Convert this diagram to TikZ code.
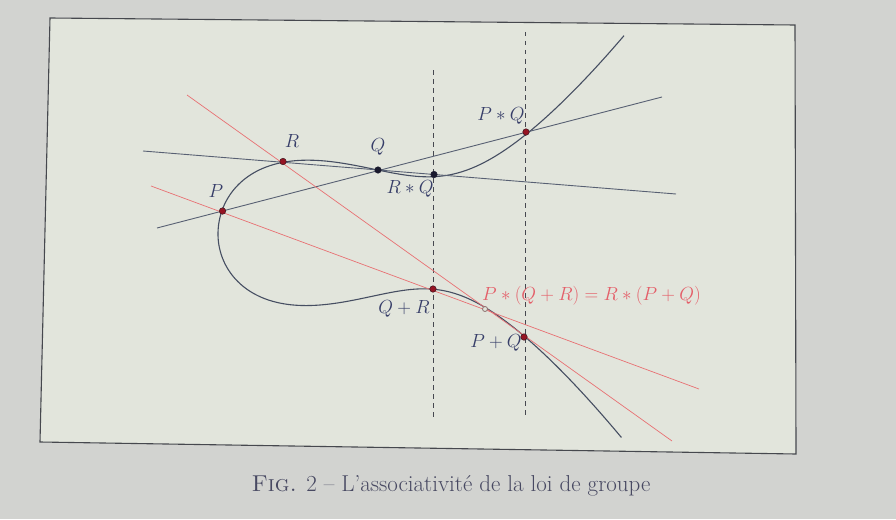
\documentclass[tikz,border=0pt]{standalone}
\usepackage{fix-cm}
\usepackage{fontspec}
\definecolor{bgout}{RGB}{210,211,208}
\definecolor{bgin}{RGB}{226,229,220}
\definecolor{framec}{RGB}{70,72,78}
\definecolor{curvec}{RGB}{70,78,98}
\definecolor{bluec}{RGB}{88,96,115}
\definecolor{redc}{RGB}{232,112,115}
\definecolor{dashc}{RGB}{70,72,80}
\definecolor{dotr}{RGB}{150,20,35}
\definecolor{dotrb}{RGB}{60,20,30}
\definecolor{dotd}{RGB}{25,25,45}
\definecolor{opend}{RGB}{140,110,110}
\definecolor{labc}{RGB}{55,62,105}
\definecolor{redlabc}{RGB}{228,95,105}
\definecolor{capc}{RGB}{72,73,98}
\begin{document}
\begin{tikzpicture}[x=1pt,y=-1pt,
  curvestyle/.style={draw=curvec,line width=1.1pt},
  blueline/.style={draw=bluec,line width=0.9pt},
  redline/.style={draw=redc,line width=0.7pt},
  dashline/.style={draw=dashc,line width=0.9pt,dash pattern=on 4.5pt off 4.5pt},
  dotred/.style={circle,inner sep=0pt,minimum size=6.5pt,fill=dotr,draw=dotrb,line width=0.5pt},
  dotdark/.style={circle,inner sep=0pt,minimum size=6.5pt,fill=dotd,draw=dotd,line width=0.5pt},
  dotopen/.style={circle,inner sep=0pt,minimum size=5pt,fill=bgin,draw=opend,line width=0.8pt},
  lab/.style={text=labc,font=\fontsize{19}{22}\selectfont,inner sep=0pt},
  redlab/.style={text=redlabc,font=\fontsize{19}{22}\selectfont,inner sep=0pt}]
\useasboundingbox (0,0) rectangle (896,519);
\fill[bgout] (0,0) rectangle (896,519);
% frame
\coordinate (c1) at (50,18);
\coordinate (c2) at (795,25);
\coordinate (c3) at (796,454);
\coordinate (c4) at (40,442);
\filldraw[fill=bgin,draw=framec,line width=1.1pt] (c1) -- (c2) -- (c3) -- (c4) -- cycle;
% dashed verticals
\coordinate (d1t) at (433.5,70);
\coordinate (d1b) at (433.5,417);
\coordinate (d2t) at (525.5,32);
\coordinate (d2b) at (525.5,417);
\draw[dashline] (d1t) -- (d1b);
\draw[dashline] (d2t) -- (d2b);
% curve: upper branch and lower branch
\draw[curvestyle] plot[domain=0:2.015,samples=140,variable=\s,smooth]
  ({218+100*\s*\s},{234-100*\s*sqrt(0.25*(\s*\s-2.25)^2+0.15)});
\draw[curvestyle] plot[domain=0:2.01,samples=140,variable=\s,smooth]
  ({218+100*\s*\s},{234+1.5*\s*\s+100*\s*sqrt(0.25*(\s*\s-2.2)^2+0.125)});
% line endpoints
\coordinate (a1) at (143,151);
\coordinate (a2) at (676,194);
\coordinate (b1) at (157,228);
\coordinate (b2) at (662,97);
\coordinate (r1) at (187,95);
\coordinate (r2) at (672,441);
\coordinate (s1) at (151,186);
\coordinate (s2) at (699,389);
\draw[blueline] (a1) -- (a2);
\draw[blueline] (b1) -- (b2);
\draw[redline] (r1) -- (r2);
\draw[redline] (s1) -- (s2);
% points
\node[dotred] (P) at (222.5,211) {};
\node[dotred] (R) at (283,161.5) {};
\node[dotdark] (Q) at (378,170) {};
\node[dotdark] (RQ) at (434,174.5) {};
\node[dotred] (PQ) at (526,132) {};
\node[dotred] (QR) at (433,289) {};
\node[dotopen] (X) at (485,309) {};
\node[dotred] (PpQ) at (524,337) {};
% labels
\node[lab] (lP) at (216,191) {$P$};
\node[lab] (lR) at (292,141) {$R$};
\node[lab] (lQ) at (378,147) {$Q$};
\node[lab] (lRQ) at (410,189) {$R*Q$};
\node[lab] (lPQ) at (501,116) {$P*Q$};
\node[lab] (lQR) at (404,309) {$Q+R$};
\node[lab] (lPpQ) at (496,343) {$P+Q$};
\node[redlab] (lX) at (591.5,296) {$P*(Q+R)=R*(P+Q)$};
% caption
\node[text=capc,font=\fontsize{23}{27}\selectfont,inner sep=0pt] (cap) at (451,486) {\textsc{Fig.} 2 -- L'associativité de la loi de groupe};
\end{tikzpicture}
\end{document}
